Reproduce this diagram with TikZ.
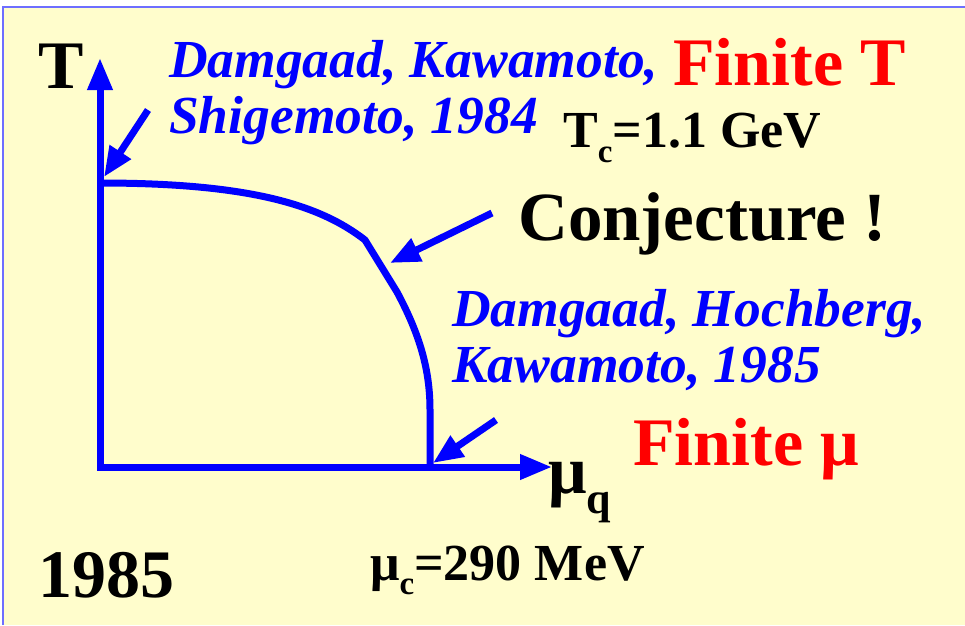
\documentclass[tikz,border=0pt]{standalone}
\usepackage{fontspec}
\setmainfont{Liberation Serif}
\usetikzlibrary{arrows.meta}

\definecolor{slidebg}{HTML}{FFFDCC}
\definecolor{frameblue}{RGB}{110,110,255}

\begin{document}
\begin{tikzpicture}[
  x=1pt, y=-1pt,
  every node/.style={inner sep=0pt, anchor=base west},
  axis/.style={blue, line width=7pt},
  pointer/.style={blue, line width=7pt, -{Triangle[length=30pt, width=24pt]}},
  phase/.style={blue, line width=7pt, line join=round},
  refs/.style={text=blue, align=left, font=\fontsize{53.5}{56}\selectfont\bfseries\itshape},
  bigtxt/.style={font=\fontsize{68}{70}\selectfont\bfseries},
  midtxt/.style={font=\fontsize{52}{56}\selectfont\bfseries},
]
\useasboundingbox (0,0) rectangle (965,625);

% slide background
\fill[white] (0,0) rectangle (965,7);
\fill[slidebg] (3,7) rectangle (965,625);
\draw[frameblue, line width=1.5pt] (3,625) |- (965,7);

% axes
\coordinate (origin) at (100,467);
\coordinate (tend) at (100,58);
\coordinate (muend) at (552,467);
\draw[axis, {Triangle[length=32pt, width=24pt]}-{Triangle[length=32pt, width=24pt]}]
  (tend) -- (origin) -- (muend);

% phase boundary
\coordinate (tc) at (100,183);
\coordinate (muc) at (430,467);
\draw[phase] (tc) .. controls (250,183) and (320,205) .. (365,240)
  -- (397,292) .. controls (420,335) and (430,370) .. (430,410) -- (muc);

% axis labels
\node[bigtxt] (tlab) at (38,88) {T};
\node[bigtxt] (mulab) at (548,493) {μ\raisebox{-20pt}{\fontsize{44}{44}\selectfont q}};

% references (base = last line)
\node[refs] (dks) at (169,133) {Damgaad, Kawamoto,\\Shigemoto, 1984};
\node[refs] (dhk) at (452,382) {Damgaad, Hochberg,\\Kawamoto, 1985};

% headings
\node[bigtxt, text=red] (fint) at (673,85) {Finite T};
\node[bigtxt, text=red] (finmu) at (633,465) {Finite μ};
\node[bigtxt, font=\fontsize{69}{70}\selectfont\bfseries] (conj) at (518,240) {Conjecture !};
\node[midtxt] (tcval) at (563,147) {T\raisebox{-15pt}{\fontsize{33}{33}\selectfont c}=1.1 GeV};
\node[midtxt] (mucval) at (370,580) {μ\raisebox{-14pt}{\fontsize{33}{33}\selectfont c}=290 MeV};
\node[bigtxt] (year) at (38,597) {1985};

% pointers
\coordinate (p1) at (148,110);
\coordinate (p2) at (492,213);
\coordinate (p3) at (496,420);
\draw[pointer] (p1) -- (104,177);
\draw[pointer] (p2) -- (390,263);
\draw[pointer] (p3) -- (433,463);
\end{tikzpicture}
\end{document}
